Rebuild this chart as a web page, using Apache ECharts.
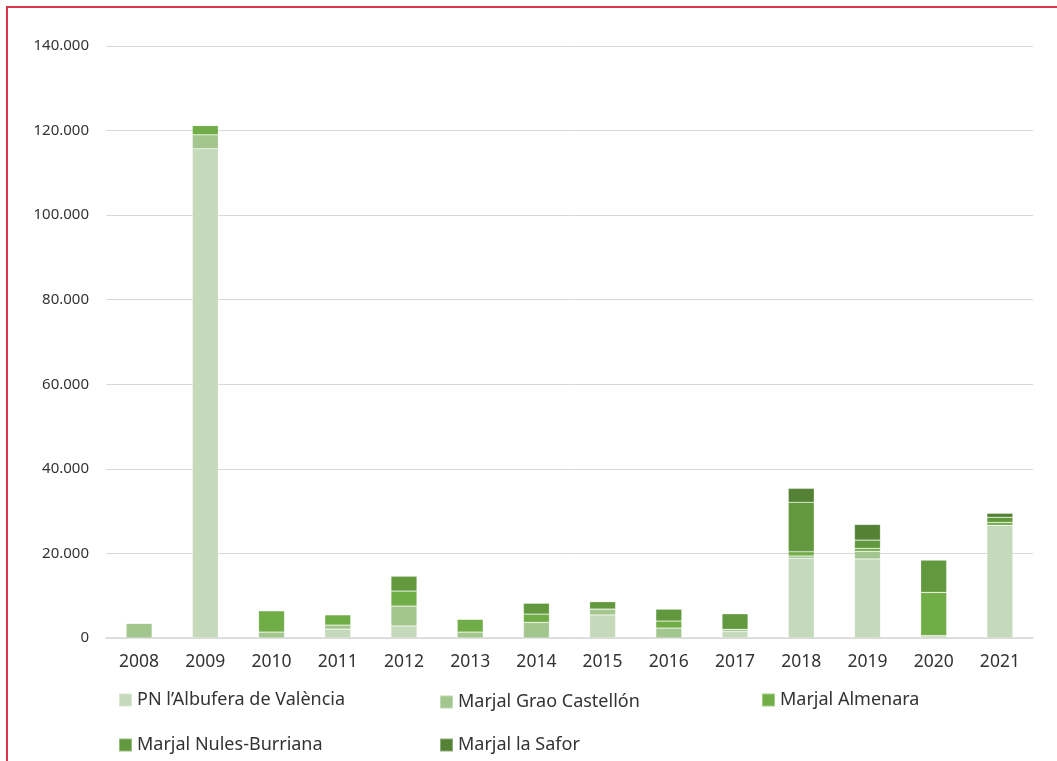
<!DOCTYPE html>
<html>
<head>
<meta charset="utf-8">
<script src="https://cdn.jsdelivr.net/npm/echarts@6/dist/echarts.min.js"></script>
<style>
    html, body { margin: 0; padding: 0; background: #fff; }
    #chart { position: absolute; left: 0; top: 0; width: 1057px; height: 761px; }
    #frame {
        position: absolute; left: 6px; top: 6px; right: -5px; bottom: -5px;
        border-top: 2px solid #d23a4c; border-left: 2px solid #d23a4c;
        pointer-events: none;
    }
</style>
</head>
<body>
<div id="chart"></div>
<div id="frame"></div>
<script>
// years on the x axis
const years = ['2008', '2009', '2010', '2011', '2012', '2013', '2014', '2015', '2016', '2017', '2018', '2019', '2020', '2021'];

// values (stacked, bottom to top)
const albufera = [0, 115700, 0, 2100, 2850, 0, 0, 5450, 0, 1500, 18850, 18700, 550, 26650];
const grao = [3500, 3300, 1400, 950, 4700, 1400, 3700, 1400, 2350, 550, 550, 1800, 0, 0];
const almenara = [0, 2200, 5050, 2450, 3550, 3050, 1950, 0, 1650, 0, 1000, 700, 10250, 700];
const nules = [0, 0, 0, 0, 3550, 0, 2600, 1750, 2850, 3700, 11700, 1950, 7650, 1200];
const safor = [0, 0, 0, 0, 0, 0, 0, 0, 0, 0, 3300, 3700, 0, 950];

const seriesNames = ['PN l\u2019Albufera de Val\u00e8ncia', 'Marjal Grao Castell\u00f3n', 'Marjal Almenara', 'Marjal Nules-Burriana', 'Marjal la Safor'];
const seriesColors = ['#c5d9bb', '#a3c68f', '#70ad47', '#62993e', '#548235'];
const seriesData = [albufera, grao, almenara, nules, safor];

// where each legend entry sits (two rows, three columns)
const legendLeft = [113, 434, 756, 113, 434];
const legendTop = [686, 688, 686, 731, 731];

const font = 'Noto Sans';
const textColor = '#333';

let chart = echarts.init(document.getElementById('chart'));

function fmt(v) {
    if (v === 0) return '0';
    return String(v).replace(/\B(?=(\d{3})+(?!\d))/g, '.');
}

let option = {
    animation: false,
    textStyle: {fontFamily: font},
    grid: {
        left: 106,
        right: 24,
        top: 46,
        bottom: 123
    },
    legend: seriesNames.map((name, i) => ({
        left: legendLeft[i],
        top: legendTop[i],
        itemWidth: 13,
        itemHeight: 13,
        itemGap: 6,
        icon: 'rect',
        textStyle: {
            fontFamily: font,
            fontSize: 18,
            color: textColor
        },
        data: [name]
    })),
    xAxis: {
        type: 'category',
        data: years,
        axisTick: {show: false},
        axisLine: {lineStyle: {color: '#d9d9d9', width: 1.5}},
        axisLabel: {
            fontFamily: font,
            fontSize: 17.5,
            color: textColor,
            margin: 15
        }
    },
    yAxis: {
        type: 'value',
        min: 0,
        max: 140000,
        interval: 20000,
        axisLine: {show: false},
        axisTick: {show: false},
        splitLine: {lineStyle: {color: '#d9d9d9', width: 1}},
        axisLabel: {
            fontFamily: font,
            fontSize: 15,
            color: textColor,
            margin: 17,
            formatter: fmt
        }
    },
    series: seriesNames.map((name, i) => ({
        name: name,
        type: 'bar',
        stack: 'total',
        barWidth: 26,
        itemStyle: {
            color: seriesColors[i],
            borderColor: 'rgba(255,255,255,0.35)',
            borderWidth: 0.6
        },
        data: seriesData[i]
    }))
};

chart.setOption(option);
</script>
</body>
</html>
